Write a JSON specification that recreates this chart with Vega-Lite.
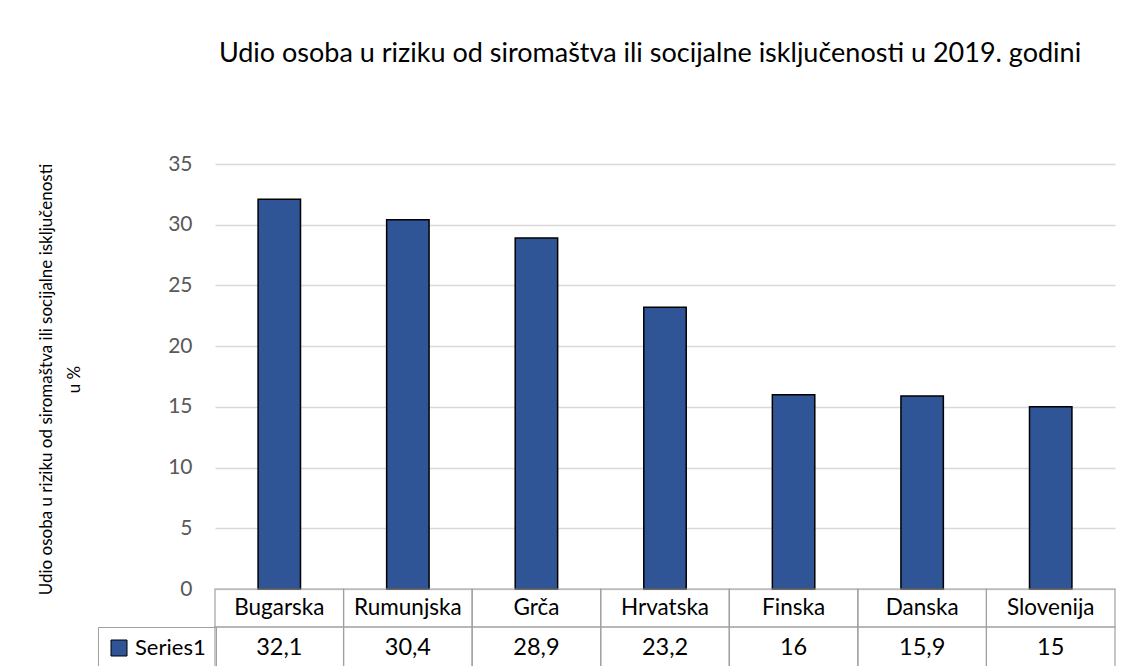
{
  "$schema": "https://vega.github.io/schema/vega-lite/v6.json",
  "width": 900,
  "height": 425,
  "autosize": {"type": "none"},
  "padding": {"left": 215, "top": 164, "right": 21, "bottom": 77},
  "background": "white",
  "title": {
    "text": "Udio osoba u riziku od siromaštva ili socijalne isključenosti u 2019. godini",
    "fontSize": 27,
    "font": "Lato",
    "fontWeight": "normal",
    "color": "#000000",
    "anchor": "middle",
    "frame": "group",
    "dx": -15,
    "baseline": "alphabetic",
    "offset": 64
  },
  "data": {
    "values": [
      {"country": "Bugarska", "value": 32.1, "series": "Series1"},
      {"country": "Rumunjska", "value": 30.4, "series": "Series1"},
      {"country": "Grča", "value": 28.9, "series": "Series1"},
      {"country": "Hrvatska", "value": 23.2, "series": "Series1"},
      {"country": "Finska", "value": 16, "series": "Series1"},
      {"country": "Danska", "value": 15.9, "series": "Series1"},
      {"country": "Slovenija", "value": 15, "series": "Series1"}
    ]
  },
  "encoding": {
    "x": {
      "field": "country",
      "type": "nominal",
      "sort": null,
      "scale": {"paddingInner": 0, "paddingOuter": 0},
      "axis": null
    }
  },
  "layer": [
    {
      "mark": {"type": "bar", "width": {"band": 0.33}, "stroke": "#000000", "strokeWidth": 1.5},
      "encoding": {
        "y": {
          "field": "value",
          "type": "quantitative",
          "scale": {"domain": [0, 35], "nice": false, "zero": true},
          "axis": {
            "values": [0, 5, 10, 15, 20, 25, 30, 35],
            "grid": true,
            "gridColor": "#d9d9d9",
            "gridWidth": 1.3,
            "domain": false,
            "ticks": false,
            "labelFontSize": 21,
            "labelFont": "Lato",
            "labelColor": "#595959",
            "labelPadding": 23,
            "title": ["Udio osoba u riziku od siromaštva ili socijalne isključenosti", "u %"],
            "titleFont": "Lato",
            "titleFontSize": 17,
            "titleFontWeight": "normal",
            "titleColor": "#000000",
            "titleAngle": -90,
            "titleAlign": "center",
            "titleBaseline": "middle",
            "titleLineHeight": 28,
            "titleX": -169,
            "titleY": 215
          }
        },
        "color": {
          "field": "series",
          "type": "nominal",
          "scale": {"domain": ["Series1"], "range": ["#2F5597"]},
          "legend": {
            "title": null,
            "orient": "none",
            "legendX": -117,
            "legendY": 463,
            "strokeColor": "#a0a0a0",
            "padding": 10,
            "symbolType": "square",
            "symbolSize": 256,
            "symbolStrokeColor": "#000000",
            "symbolStrokeWidth": 1,
            "symbolOpacity": 1,
            "labelFontSize": 22,
            "labelFont": "Lato",
            "labelColor": "#000000",
            "labelOffset": 5
          }
        }
      }
    },
    {
      "mark": {"type": "rect", "fill": null, "stroke": "#a0a0a0", "strokeWidth": 1.2},
      "encoding": {
        "y": {"datum": 0, "type": "quantitative"},
        "y2": {"datum": -3.13}
      }
    },
    {
      "mark": {"type": "rect", "fill": null, "stroke": "#a0a0a0", "strokeWidth": 1.2},
      "encoding": {
        "y": {"datum": -3.13, "type": "quantitative"},
        "y2": {"datum": -8}
      }
    },
    {
      "mark": {"type": "text", "fontSize": 22.5, "font": "Lato", "color": "#000000", "baseline": "middle", "align": "center"},
      "encoding": {
        "y": {"datum": -1.56, "type": "quantitative"},
        "text": {"field": "country", "type": "nominal"}
      }
    },
    {
      "mark": {"type": "text", "fontSize": 23.5, "font": "Lato", "color": "#000000", "baseline": "middle", "align": "center"},
      "encoding": {
        "y": {"datum": -4.86, "type": "quantitative"},
        "text": {"field": "value", "type": "quantitative", "format": "~g"}
      }
    }
  ],
  "config": {
    "font": "Lato",
    "view": {"stroke": null},
    "locale": {
      "number": {"decimal": ",", "thousands": ".", "grouping": [3], "currency": ["", " €"]}
    }
  }
}
